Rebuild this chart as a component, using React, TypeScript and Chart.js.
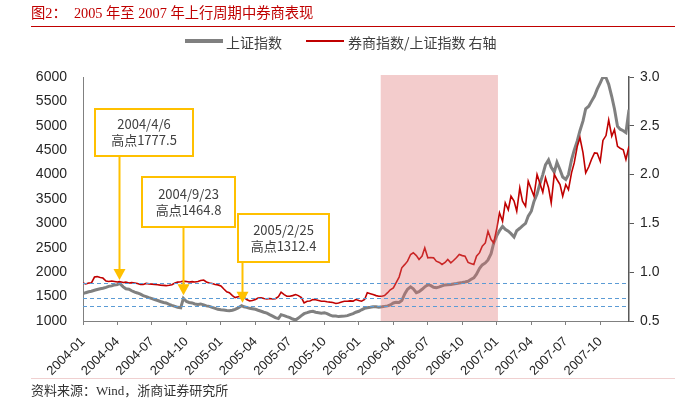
import { useEffect, useRef } from "react";
import { Chart, registerables } from "chart.js";

Chart.register(...registerables);

// ---- data (roughly weekly) ----
const dates = [
  "2004-01-01", "2004-01-08", "2004-01-16", "2004-01-23", "2004-02-01", "2004-02-08", "2004-02-16", "2004-02-23",
  "2004-03-01", "2004-03-08", "2004-03-16", "2004-03-23", "2004-04-01", "2004-04-06", "2004-04-16", "2004-04-23",
  "2004-05-01", "2004-05-08", "2004-05-16", "2004-05-23", "2004-06-01", "2004-06-08", "2004-06-16", "2004-06-23",
  "2004-07-01", "2004-07-08", "2004-07-16", "2004-07-23", "2004-08-01", "2004-08-08", "2004-08-16", "2004-08-23",
  "2004-09-01", "2004-09-08", "2004-09-16", "2004-09-23", "2004-10-01", "2004-10-08", "2004-10-16", "2004-10-23",
  "2004-11-01", "2004-11-08", "2004-11-16", "2004-11-23", "2004-12-01", "2004-12-08", "2004-12-16", "2004-12-23",
  "2005-01-01", "2005-01-08", "2005-01-16", "2005-01-23", "2005-02-01", "2005-02-08", "2005-02-16", "2005-02-25",
  "2005-03-01", "2005-03-08", "2005-03-16", "2005-03-23", "2005-04-01", "2005-04-08", "2005-04-16", "2005-04-23",
  "2005-05-01", "2005-05-08", "2005-05-16", "2005-05-23", "2005-06-01", "2005-06-08", "2005-06-16", "2005-06-23",
  "2005-07-01", "2005-07-08", "2005-07-16", "2005-07-23", "2005-08-01", "2005-08-08", "2005-08-16", "2005-08-23",
  "2005-09-01", "2005-09-08", "2005-09-16", "2005-09-23", "2005-10-01", "2005-10-08", "2005-10-16", "2005-10-23",
  "2005-11-01", "2005-11-08", "2005-11-16", "2005-11-23", "2005-12-01", "2005-12-08", "2005-12-16", "2005-12-23",
  "2006-01-01", "2006-01-08", "2006-01-16", "2006-01-23", "2006-02-01", "2006-02-08", "2006-02-16", "2006-02-23",
  "2006-03-01", "2006-03-08", "2006-03-16", "2006-03-23", "2006-04-01", "2006-04-08", "2006-04-16", "2006-04-23",
  "2006-05-01", "2006-05-08", "2006-05-16", "2006-05-23", "2006-06-01", "2006-06-08", "2006-06-16", "2006-06-23",
  "2006-07-01", "2006-07-08", "2006-07-16", "2006-07-23", "2006-08-01", "2006-08-08", "2006-08-16", "2006-08-23",
  "2006-09-01", "2006-09-08", "2006-09-16", "2006-09-23", "2006-10-01", "2006-10-08", "2006-10-16", "2006-10-23",
  "2006-11-01", "2006-11-08", "2006-11-16", "2006-11-23", "2006-12-01", "2006-12-08", "2006-12-16", "2006-12-23",
  "2007-01-01", "2007-01-08", "2007-01-16", "2007-01-23", "2007-02-01", "2007-02-08", "2007-02-16", "2007-02-23",
  "2007-03-01", "2007-03-08", "2007-03-16", "2007-03-23", "2007-04-01", "2007-04-08", "2007-04-16", "2007-04-23",
  "2007-05-01", "2007-05-08", "2007-05-16", "2007-05-23", "2007-06-01", "2007-06-08", "2007-06-16", "2007-06-23",
  "2007-07-01", "2007-07-08", "2007-07-16", "2007-07-23", "2007-08-01", "2007-08-08", "2007-08-16", "2007-08-23",
  "2007-09-01", "2007-09-08", "2007-09-16", "2007-09-23", "2007-10-01", "2007-10-08", "2007-10-16", "2007-10-23",
  "2007-11-01", "2007-11-08", "2007-11-16", "2007-11-23", "2007-12-01", "2007-12-08", "2007-12-16",
];

// 上证指数 (left axis)
const shIndex = [
  1560, 1580, 1600, 1610, 1630, 1645, 1660, 1670,
  1690, 1710, 1720, 1740, 1745, 1777.5, 1700, 1660,
  1650, 1620, 1590, 1575, 1550, 1520, 1500, 1480,
  1460, 1440, 1420, 1400, 1380, 1370, 1340, 1320,
  1300, 1280, 1270, 1464.8, 1400, 1380, 1370, 1350,
  1340, 1350, 1330, 1310, 1300, 1280, 1260, 1240,
  1230, 1225, 1215, 1210, 1220, 1240, 1270, 1312.4,
  1290, 1280, 1260, 1250, 1240, 1220, 1200, 1180,
  1160, 1130, 1100, 1070, 1050, 1130, 1110, 1090,
  1070, 1040, 1020, 1060, 1110, 1150, 1170, 1190,
  1200, 1180, 1170, 1160, 1170, 1150, 1120, 1100,
  1100, 1090, 1095, 1100, 1110, 1130, 1150, 1180,
  1200, 1230, 1260, 1270, 1280, 1290, 1290, 1280,
  1290, 1300, 1310, 1330, 1370, 1385, 1380, 1420,
  1560, 1650, 1700, 1660, 1580, 1600, 1650, 1700,
  1740, 1730, 1690, 1680, 1700, 1720, 1740, 1745,
  1750, 1760, 1770, 1780, 1790, 1800, 1815, 1850,
  1885, 1960, 2080, 2150, 2190, 2250, 2380, 2600,
  2750, 2850, 2940, 2880, 2840, 2790, 2720, 2850,
  2900, 2950, 3000, 3150, 3250, 3450, 3600, 3800,
  4000, 4200, 4300, 4150, 4050, 4250, 4100, 3950,
  3900, 4000, 4300, 4500, 4690, 4900, 5100, 5350,
  5400, 5500, 5610, 5750, 5880, 6000, 5985, 5850,
  5600, 5350, 4990, 4930, 4900, 4860, 5330,
];

// 券商指数/上证指数 (right axis)
const brokerRatio = [
  0.89, 0.88, 0.89, 0.89, 0.95, 0.955, 0.945, 0.94,
  0.91, 0.905, 0.91, 0.905, 0.9, 0.905, 0.895, 0.898,
  0.89, 0.893, 0.89, 0.885, 0.875, 0.874, 0.885, 0.88,
  0.878, 0.875, 0.872, 0.868, 0.865, 0.862, 0.866, 0.872,
  0.89, 0.898, 0.902, 0.908, 0.905, 0.9, 0.903, 0.9,
  0.905, 0.915, 0.92, 0.9, 0.89, 0.885, 0.874, 0.87,
  0.86, 0.83, 0.8, 0.79, 0.76, 0.74, 0.748, 0.754,
  0.745, 0.72, 0.705, 0.71, 0.72, 0.735, 0.738, 0.73,
  0.727, 0.73, 0.725, 0.728, 0.75, 0.795, 0.77, 0.754,
  0.754, 0.76, 0.771, 0.76, 0.74, 0.686, 0.703, 0.705,
  0.72, 0.718, 0.71, 0.703, 0.703, 0.698, 0.693, 0.69,
  0.68, 0.685, 0.695, 0.703, 0.703, 0.706, 0.704, 0.72,
  0.71, 0.703, 0.72, 0.789, 0.78, 0.771, 0.76, 0.754,
  0.754, 0.76, 0.79, 0.82, 0.84, 0.891, 0.95, 1.045,
  1.08, 1.113, 1.181, 1.199, 1.17, 1.13, 1.165, 1.25,
  1.147, 1.15, 1.147, 1.113, 1.1, 1.079, 1.1, 1.13,
  1.096, 1.12, 1.15, 1.181, 1.17, 1.165, 1.1, 1.09,
  1.079, 1.164, 1.2, 1.266, 1.3, 1.42, 1.335, 1.301,
  1.45, 1.609, 1.523, 1.711, 1.64, 1.779, 1.728, 1.625,
  1.865, 1.728, 1.676, 1.933, 1.85, 1.779, 2.001, 1.916,
  1.82, 1.967, 1.865, 1.711, 2.001, 1.95, 1.898, 1.779,
  1.898, 1.847, 2.018, 2.12, 2.29, 2.377, 2.223, 2.018,
  2.08, 2.155, 2.223, 2.22, 2.137, 2.35, 2.4, 2.56,
  2.393, 2.462, 2.29, 2.27, 2.255, 2.155, 2.29,
];

const xTickLabels = [
  "2004-01", "2004-04", "2004-07", "2004-10", "2005-01", "2005-04", "2005-07", "2005-10",
  "2006-01", "2006-04", "2006-07", "2006-10", "2007-01", "2007-04", "2007-07", "2007-10",
];

const leftMin = 1000;
const leftMax = 6000;
const leftStep = 500;
const rightMin = 0.5;
const rightMax = 3.0;
const rightStep = 0.5;

const highDates = ["2004-04-06", "2004-09-23", "2005-02-25"];
const highValues = [1777.5, 1464.8, 1312.4];
const highDateLabels = ["2004/4/6", "2004/9/23", "2005/2/25"];
const highTextLabels = ["高点1777.5", "高点1464.8", "高点1312.4"];

const shadeStart = "2006-02-28";
const shadeEnd = "2007-01-04";

const seriesNames = ["上证指数", "券商指数/上证指数 右轴"];

// ---- helpers ----
function toMonth(s: string): number {
  const [y, m, d] = s.split("-").map(Number);
  return (y - 2004) * 12 + (m - 1) + (d - 1) / 30;
}
const xTickValues = xTickLabels.map((l) => toMonth(l + "-01"));

const GRAY = "#808080";
const RED = "#C00000";
const GOLD = "#FFC000";
const CJK = '"Noto Sans CJK SC", "Noto Sans", sans-serif';
const SERIF_CJK = '"Liberation Serif", "Noto Sans CJK SC", serif';
const ARIAL = '"Liberation Sans", Arial, sans-serif';

// annotation box layout (pixels)
const boxLayout = [
  { left: 95, top: 109, w: 98, h: 47 },
  { left: 142, top: 177, w: 93, h: 50 },
  { left: 238, top: 214, w: 91, h: 48 },
];

const overlayPlugin = {
  id: "overlayPlugin",
  afterDatasetsDraw(chart: any) {
    const { ctx, chartArea, scales } = chart;
    const xs = scales.x;
    const yL = scales.yL;
    ctx.save();
    // shaded period
    const sx = xs.getPixelForValue(toMonth(shadeStart));
    const ex = xs.getPixelForValue(toMonth(shadeEnd));
    ctx.fillStyle = "rgba(220,110,110,0.35)";
    ctx.fillRect(sx, chartArea.top - 2, ex - sx, chartArea.bottom - chartArea.top + 2);

    // dashed high lines
    ctx.strokeStyle = "#5B9BD5";
    ctx.lineWidth = 1.2;
    ctx.setLineDash([4, 3]);
    highValues.forEach((v) => {
      const y = Math.round(yL.getPixelForValue(v)) + 0.5;
      ctx.beginPath();
      ctx.moveTo(chartArea.left, y);
      ctx.lineTo(chartArea.right, y);
      ctx.stroke();
    });
    ctx.setLineDash([]);

    // annotations
    highDates.forEach((d, i) => {
      const b = boxLayout[i];
      const ax = Math.round(xs.getPixelForValue(toMonth(d))) + 0.5;
      const tipY = yL.getPixelForValue(highValues[i]) - 3;
      ctx.strokeStyle = GOLD;
      ctx.fillStyle = GOLD;
      ctx.lineWidth = 2;
      ctx.beginPath();
      ctx.moveTo(ax, b.top + b.h);
      ctx.lineTo(ax, tipY - 10);
      ctx.stroke();
      ctx.beginPath();
      ctx.moveTo(ax - 6, tipY - 11);
      ctx.lineTo(ax + 6, tipY - 11);
      ctx.lineTo(ax, tipY);
      ctx.closePath();
      ctx.fill();

      ctx.fillStyle = "#ffffff";
      ctx.fillRect(b.left, b.top, b.w, b.h);
      ctx.strokeStyle = GOLD;
      ctx.lineWidth = 2;
      ctx.strokeRect(b.left, b.top, b.w, b.h);

      ctx.fillStyle = "#404040";
      ctx.font = "13px " + CJK;
      ctx.textAlign = "center";
      ctx.textBaseline = "middle";
      const cx = b.left + b.w / 2;
      const cy = b.top + b.h / 2;
      ctx.fillText(highDateLabels[i], cx, cy - 8);
      ctx.fillText(highTextLabels[i], cx, cy + 8);
    });
    ctx.restore();
  },
};

export default function App() {
  const canvasRef = useRef<HTMLCanvasElement | null>(null);

  useEffect(() => {
    const canvas = canvasRef.current;
    if (!canvas) return;
    const xs = dates.map(toMonth);
    const chart = new Chart(canvas, {
      type: "line",
      data: {
        datasets: [
          {
            label: seriesNames[1],
            data: xs.map((x, i) => ({ x, y: brokerRatio[i] })),
            yAxisID: "yR",
            borderColor: RED,
            borderWidth: 1.6,
            pointRadius: 0,
            tension: 0,
          },
          {
            label: seriesNames[0],
            data: xs.map((x, i) => ({ x, y: shIndex[i] })),
            yAxisID: "yL",
            borderColor: GRAY,
            borderWidth: 3,
            pointRadius: 0,
            tension: 0,
          },
        ],
      },
      options: {
        responsive: false,
        animation: false,
        devicePixelRatio: 1,
        layout: { padding: { top: 77, left: 0, right: 0, bottom: 0 } },
        plugins: {
          legend: { display: false },
          tooltip: { enabled: false },
          title: { display: false },
        },
        scales: {
          x: {
            type: "linear",
            min: xs[0],
            max: xs[xs.length - 1],
            afterBuildTicks: (s: any) => {
              s.ticks = xTickValues.map((v) => ({ value: v }));
            },
            afterFit: (s: any) => {
              s.height = 78;
            },
            ticks: {
              autoSkip: false,
              minRotation: 45,
              maxRotation: 45,
              padding: 9,
              color: "#262626",
              font: { family: ARIAL, size: 13 },
              callback: (v: any) => {
                const idx = xTickValues.findIndex((t) => Math.abs(t - Number(v)) < 1e-6);
                return idx >= 0 ? xTickLabels[idx] : "";
              },
            },
            grid: { drawOnChartArea: false, drawTicks: true, tickLength: 4, color: GRAY },
            border: { display: true, color: GRAY, width: 1 },
          },
          yL: {
            type: "linear",
            position: "left",
            min: leftMin,
            max: leftMax,
            afterFit: (s: any) => {
              s.width = 83;
            },
            ticks: {
              stepSize: leftStep,
              padding: 16,
              color: "#262626",
              font: { family: ARIAL, size: 14 },
              callback: (v: any) => String(v),
            },
            grid: { display: false, drawTicks: false },
            border: { display: true, color: GRAY, width: 1 },
          },
          yR: {
            type: "linear",
            position: "right",
            min: rightMin,
            max: rightMax,
            afterFit: (s: any) => {
              s.width = 46;
            },
            ticks: {
              stepSize: rightStep,
              padding: 6,
              color: "#262626",
              font: { family: ARIAL, size: 14 },
              callback: (v: any) => Number(v).toFixed(1),
            },
            grid: { drawOnChartArea: false, drawTicks: true, tickLength: 5, color: "#595959" },
            border: { display: true, color: "#595959", width: 1.5 },
          },
        },
      },
      plugins: [overlayPlugin],
    });
    return () => chart.destroy();
  }, []);

  return (
    <div
      style={{
        position: "absolute",
        left: 0,
        top: 0,
        width: 675,
        height: 399,
        background: "#ffffff",
        overflow: "hidden",
      }}
    >
      <canvas ref={canvasRef} width={675} height={399} style={{ position: "absolute", left: 0, top: 0 }} />
      <div
        style={{
          position: "absolute",
          left: 31,
          top: 5,
          fontFamily: SERIF_CJK,
          fontSize: 14.3,
          lineHeight: "16px",
          color: RED,
          whiteSpace: "pre",
        }}
      >
        {"图2：  2005 年至 2007 年上行周期中券商表现"}
      </div>
      <div style={{ position: "absolute", left: 31, top: 26, width: 644, height: 1, background: RED }} />
      {/* legend */}
      <div style={{ position: "absolute", left: 185, top: 39, width: 38, height: 4, background: GRAY }} />
      <div
        style={{
          position: "absolute",
          left: 226,
          top: 33,
          fontFamily: CJK,
          fontSize: 14,
          lineHeight: "18px",
          color: "#404040",
          whiteSpace: "pre",
        }}
      >
        {seriesNames[0]}
      </div>
      <div style={{ position: "absolute", left: 306, top: 40, width: 38, height: 2, background: RED }} />
      <div
        style={{
          position: "absolute",
          left: 348,
          top: 33,
          fontFamily: CJK,
          fontSize: 14,
          lineHeight: "18px",
          color: "#404040",
          whiteSpace: "pre",
        }}
      >
        {seriesNames[1]}
      </div>
      {/* footer */}
      <div style={{ position: "absolute", left: 31, top: 378, width: 644, height: 1, background: "#F0D0D0" }} />
      <div
        style={{
          position: "absolute",
          left: 31,
          top: 383,
          fontFamily: SERIF_CJK,
          fontSize: 13,
          lineHeight: "16px",
          color: "#333333",
          whiteSpace: "pre",
        }}
      >
        {"资料来源：Wind，浙商证券研究所"}
      </div>
    </div>
  );
}
